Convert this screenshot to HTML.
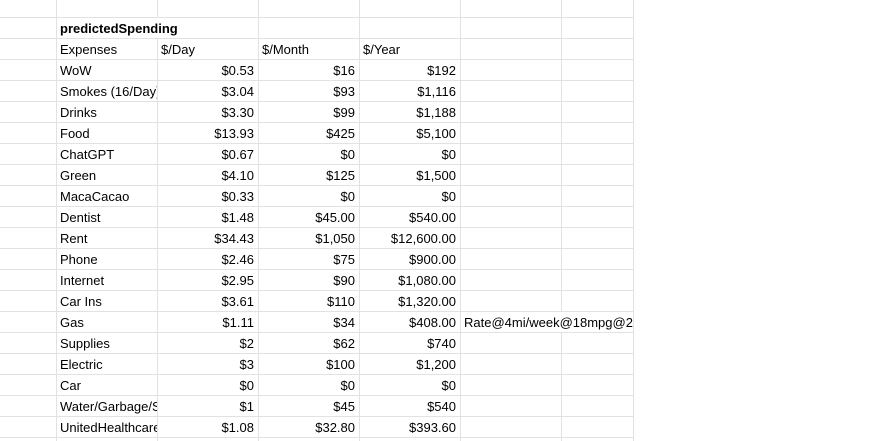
<!DOCTYPE html>
<html><head><meta charset="utf-8"><style>
body{margin:0;width:887px;height:441px;background:#fff;overflow:hidden;font-family:"Liberation Sans",Arial,sans-serif;font-size:13px;color:#000;position:relative}
.v{position:absolute;width:1px;background:#e2e2e2}
.h{position:absolute;left:0;width:633px;height:1px;background:#e2e2e2}
.c{position:absolute;height:20px;line-height:22px;white-space:nowrap;overflow:hidden}
.r{text-align:right}
</style></head><body>
<div id="g"></div>
<script>
const names=["WoW","Smokes (16/Day)","Drinks","Food","ChatGPT","Green","MacaCacao","Dentist","Rent","Phone","Internet","Car Ins","Gas","Supplies","Electric","Car","Water/Garbage/Sewer","UnitedHealthcare"];
const day=["$0.53","$3.04","$3.30","$13.93","$0.67","$4.10","$0.33","$1.48","$34.43","$2.46","$2.95","$3.61","$1.11","$2","$3","$0","$1","$1.08"];
const month=["$16","$93","$99","$425","$0","$125","$0","$45.00","$1,050","$75","$90","$110","$34","$62","$100","$0","$45","$32.80"];
const year=["$192","$1,116","$1,188","$5,100","$0","$1,500","$0","$540.00","$12,600.00","$900.00","$1,080.00","$1,320.00","$408.00","$740","$1,200","$0","$540","$393.60"];
const g=document.getElementById('g');
const xs=[56,157,258,359,460,561,633];
// row bands: -1 is top partial (0-17), 0..19 data rows, 20 bottom partial
const skip={"0:1":1,"14:5":1};
for(let r=-1;r<=20;r++){
  const top=r<0?0:17+r*21, bot=r<0?17:Math.min(441,17+(r+1)*21);
  xs.forEach((x,ci)=>{
    if(skip[r+":"+ci])return;
    const d=document.createElement('div');d.className='v';d.style.left=x+'px';d.style.top=top+'px';d.style.height=(bot-top)+'px';
    
    
    g.appendChild(d);
  });
}
for(let i=0;i<=20;i++){const d=document.createElement('div');d.className='h';d.style.top=(17+i*21)+'px';

g.appendChild(d);}
function cell(t,col,row,right,bold,name,w){const d=document.createElement('div');d.className='c'+(right?' r':'');
d.style.left=(xs[col]+4)+'px';d.style.width=(w||(xs[col+1]-xs[col]-8))+'px';d.style.top=(18+row*21)+'px';
if(bold)d.style.fontWeight='bold';d.textContent=t;

g.appendChild(d);}
cell("predictedSpending",0,0,false,true,"sheet-title",194);
cell("Expenses",0,1,false,false,"header-expenses");
cell("$/Day",1,1,false,false,"header-day");
cell("$/Month",2,1,false,false,"header-month");
cell("$/Year",3,1,false,false,"header-year");
names.forEach((n,i)=>{cell(n,0,i+2,false,false,"expense-name",97);
cell(day[i],1,i+2,true,false,"day-value");
cell(month[i],2,i+2,true,false,"month-value");
cell(year[i],3,i+2,true,false,"year-value");});
cell("Rate@4mi/week@18mpg@2.50",4,14,false,false,"gas-note",169);
</script>
</body></html>
